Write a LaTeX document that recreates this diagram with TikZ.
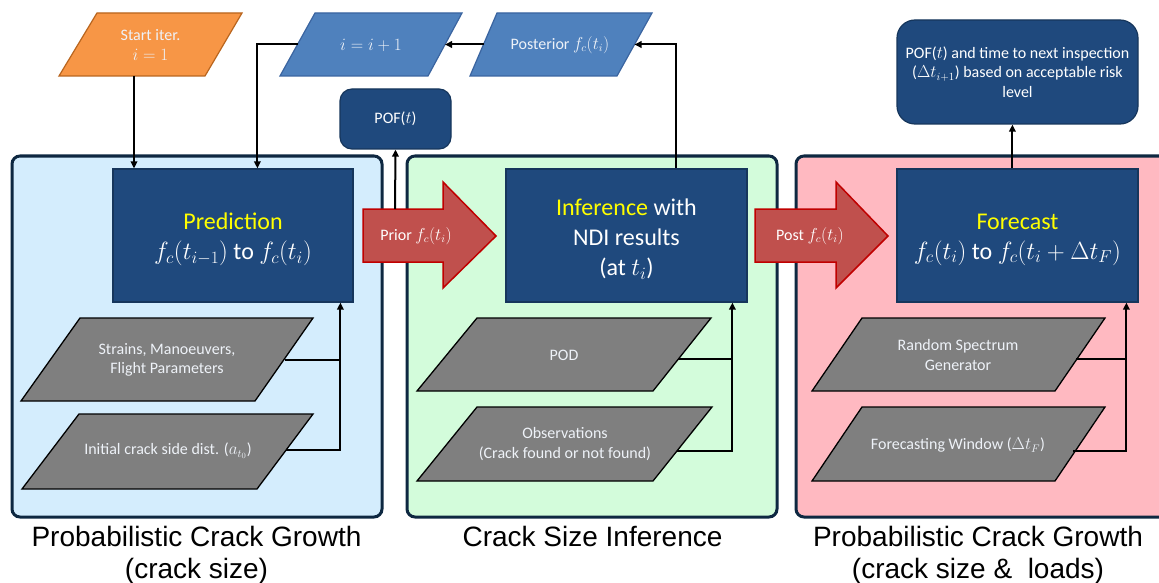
\documentclass[tikz,border=0pt]{standalone}
\usepackage{fontspec}
\setmainfont{Carlito}
\newfontfamily\labelfont{Liberation Sans}
\usetikzlibrary{arrows.meta}
\definecolor{panelblue}{HTML}{D4EDFD}
\definecolor{panelgreen}{HTML}{D3FCDB}
\definecolor{panelpink}{HTML}{FFB9C1}
\definecolor{panelborder}{HTML}{0E2841}
\definecolor{boxblue}{HTML}{1F497D}
\definecolor{boxborder}{HTML}{16365C}
\definecolor{paragray}{HTML}{7F7F7F}
\definecolor{arrowred}{HTML}{C0504D}
\definecolor{arrowborder}{HTML}{C00000}
\definecolor{orangefill}{HTML}{F79646}
\definecolor{orangeborder}{HTML}{B9651E}
\definecolor{parablue}{HTML}{4F81BD}
\definecolor{parablueborder}{HTML}{3A64A0}
\definecolor{hiyellow}{HTML}{FFFF00}
\definecolor{paletext}{HTML}{EEF2F8}
\newcommand\txtS{\fontsize{16}{19.5}\selectfont}
\newcommand\txtL{\fontsize{24}{30}\selectfont}
\newcommand\txtH{\labelfont\fontsize{28}{31.5}\selectfont}
\begin{document}
\begin{tikzpicture}[x=1pt,y=-1pt,
  panel/.style={line width=3pt, draw=panelborder, rounded corners=8pt},
  darkbox/.style={draw=boxborder, line width=1.2pt, fill=boxblue, text=white, align=center, inner sep=0pt, font=\txtL},
  boxtext/.style={text=white, align=center, inner sep=0pt, font=\txtL},
  graypara/.style={draw=black, fill=paragray, line width=1.3pt},
  ptext/.style={text=paletext, align=center, font=\txtS, inner sep=0pt},
  conn/.style={line width=2pt, draw=black},
  arr/.style={conn, -{Triangle[length=7pt,width=6.5pt]}},
  blockarrow/.style={fill=arrowred, draw=arrowborder, line width=1.5pt},
  caption/.style={font=\txtH, align=center, text=black, inner sep=0pt}
]
\fill[white] (0,0) rectangle (1159,583);
\useasboundingbox (0,0) rectangle (1159,583);

% panels
\draw[panel, fill=panelblue] (12,156) rectangle (382,517);
\draw[panel, fill=panelgreen] (407,156) rectangle (777,517);
\draw[panel, fill=panelpink] (796,156) rectangle (1180,517);

% block arrows
\draw[blockarrow] (363,209) -- (443,209) -- (443,182) -- (496,236) -- (443,288) -- (443,262) -- (363,262) -- cycle;
\node[ptext, text=white] (prior) at (416,236) {Prior $f_c(t_i)$};
\draw[blockarrow] (755,209) -- (836,209) -- (836,182) -- (888,236) -- (836,288) -- (836,262) -- (755,262) -- cycle;
\node[ptext, text=white] (post) at (810,236) {Post $f_c(t_i)$};

% main boxes
\node[darkbox, minimum width=240pt, minimum height=133pt] (pred) at (233,235.5) {};
\node[boxtext] (predtxt) at ([yshift=-4pt]pred.center)
  {\textcolor{hiyellow}{Prediction}\\$f_c(t_{i-1})$ to $f_c(t_i)$};
\node[darkbox, minimum width=241pt, minimum height=133pt] (inf) at (626.5,235.5) {};
\node[boxtext] (inftxt) at ([yshift=-4pt]inf.center)
  {\textcolor{hiyellow}{Inference} with\\NDI results\\(at $t_i$)};
\node[darkbox, minimum width=241pt, minimum height=133pt] (fore) at (1017.5,235.5) {};
\node[boxtext] (foretxt) at ([yshift=-4pt]fore.center)
  {\textcolor{hiyellow}{Forecast}\\$f_c(t_i)$ to $f_c(t_i+\Delta t_F)$};

\node[darkbox, rounded corners=12pt, minimum width=111pt, minimum height=60pt, font=\txtS] (pof) at (395.5,119) {POF($t$)};
\node[darkbox, rounded corners=18pt, minimum width=241pt, minimum height=104pt, font=\txtS] (res) at (1017.5,72)
  {POF($t$) and time to next inspection\\($\Delta t_{i+1}$) based on acceptable risk\\level};

% top parallelograms
\draw[fill=orangefill, draw=orangeborder, line width=1.2pt] (97,13) -- (242,13) -- (205,76) -- (59,76) -- cycle;
\node[ptext] (start) at (150.5,45) {Start iter.\\$i=1$};
\coordinate (startb) at (134,76);

\draw[fill=parablue, draw=parablueborder, line width=1.2pt] (315,13) -- (462,13) -- (428,76) -- (280,76) -- cycle;
\node[ptext] (inc) at (371,45) {$i=i+1$};
\coordinate (incL) at (297.5,44.5);
\coordinate (incR) at (445,44.5);

\draw[fill=parablue, draw=parablueborder, line width=1.2pt] (497,13) -- (652,13) -- (617,76) -- (470,76) -- cycle;
\node[ptext] (postr) at (560,45) {Posterior $f_c(t_i)$};
\coordinate (postL) at (483.5,44.5);
\coordinate (postR) at (634.5,44.5);

% gray parallelograms
\draw[graypara] (80,318) -- (313,318) -- (255,401) -- (21,401) -- cycle;
\node[ptext] (strains) at (167,360) {Strains, Manoeuvers,\\Flight Parameters};
\draw[graypara] (79,414) -- (313,414) -- (257,489) -- (22,489) -- cycle;
\node[ptext] (init) at (168,451) {Initial crack side dist. ($a_{t_0}$)};

\draw[graypara] (477,318) -- (711,318) -- (653,391) -- (417,391) -- cycle;
\node[ptext] (pod) at (564,355) {POD};
\draw[graypara] (477,407) -- (712,407) -- (653,481) -- (417,481) -- cycle;
\node[ptext] (obs) at (565,444) {Observations\\(Crack found or not found)};

\draw[graypara] (862,318) -- (1105,318) -- (1055,391) -- (812,391) -- cycle;
\node[ptext] (rsg) at (958,355) {Random Spectrum\\Generator};
\draw[graypara] (862,407) -- (1105,407) -- (1055,481) -- (812,481) -- cycle;
\node[ptext] (fw) at (958,445) {Forecasting Window ($\Delta t_F$)};

\coordinate (g1) at (285,360);
\coordinate (g2) at (286,450);
\coordinate (g3) at (678,359);
\coordinate (g4) at (677,451);
\coordinate (g5) at (1076,359);
\coordinate (g6) at (1073,451);

% connectors
\draw[arr] (startb) -- (startb |- pred.north);
\draw[arr] (incL) -| ([xshift=145pt]pred.north west);
\draw[arr] (postL) -- (incR);
\draw[arr] ([xshift=171pt]inf.north west) |- (postR);
\coordinate (priortop) at (395,209);
\draw[arr] (priortop) -- (pof.south);
\draw[arr] ([xshift=116pt]fore.north west) coordinate (fo) -- (fo |- res.south);

\coordinate (pin1) at ([xshift=228pt]pred.south west);
\draw[arr] (g2) -| (pin1);
\draw[conn] (g1) -- (g1 -| pin1);
\coordinate (pin2) at ([xshift=227pt]inf.south west);
\draw[arr] (g4) -| (pin2);
\draw[conn] (g3) -- (g3 -| pin2);
\coordinate (pin3) at ([xshift=230pt]fore.south west);
\draw[arr] (g6) -| (pin3);
\draw[conn] (g5) -- (g5 -| pin3);

% captions
\node[caption] (cap1) at (196.5,555) {Probabilistic Crack Growth\\(crack size)};
\node[caption] (cap2) at (592.5,536) {Crack Size Inference};
\node[caption] (cap3) at (978,555) {Probabilistic Crack Growth\\(crack size \&\ \ loads)};
\end{tikzpicture}
\end{document}
